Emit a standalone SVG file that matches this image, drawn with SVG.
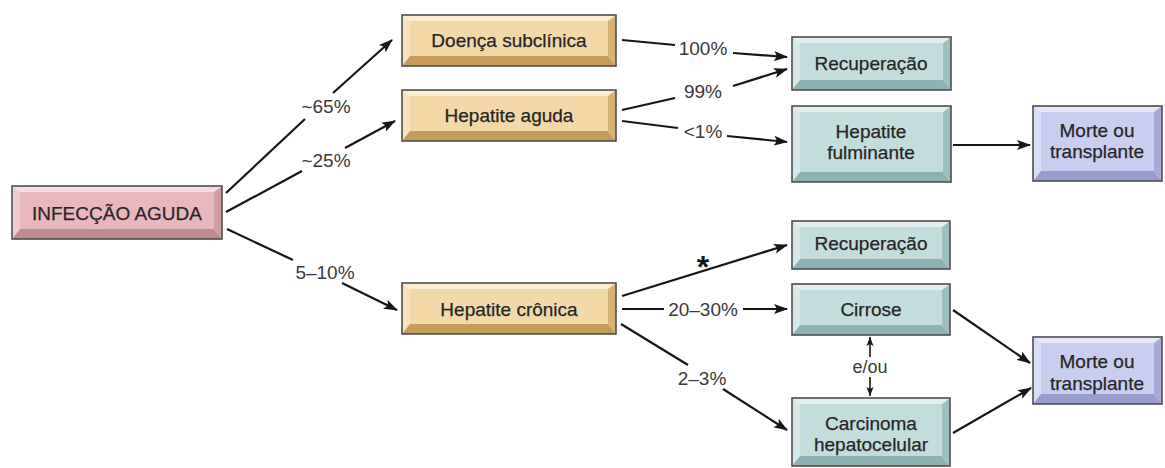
<svg xmlns="http://www.w3.org/2000/svg" width="1165" height="468" viewBox="0 0 1165 468">
  <defs>
    <style>
      text { font-family: "Liberation Sans", Arial, Helvetica, sans-serif; }
      .t { font-size: 19px; fill: #262626; text-anchor: middle; stroke: #262626; stroke-width: 0.25; }
      .lbl { font-size: 19px; fill: #3a3a3a; text-anchor: middle; }
      .ln { stroke: #161616; stroke-width: 2.2; fill: none; }
      .ln.a { marker-end: url(#ah); }
      .ln.s { marker-end: url(#ahs); stroke-width: 1.6; }
      .bd { fill: none; stroke: #4e4e4e; stroke-width: 1.6; }
      /* bevel palettes: face / top / left / right / bottom */
      .pink .f { fill: #e8b7be; } .pink .tp { fill: #f6dbdf; } .pink .lf { fill: #f0cad0; } .pink .rt { fill: #d29ba4; } .pink .bt { fill: #c48a93; }
      .tan .f { fill: #f3d9a8; } .tan .tp { fill: #fcefd0; } .tan .lf { fill: #f8e4bc; } .tan .rt { fill: #d8b273; } .tan .bt { fill: #c59c5b; }
      .teal .f { fill: #c3dcdc; } .teal .tp { fill: #e3efef; } .teal .lf { fill: #d6e8e8; } .teal .rt { fill: #9ebfbf; } .teal .bt { fill: #8db2b2; }
      .lav .f { fill: #c9cdf0; } .lav .tp { fill: #e5e7f9; } .lav .lf { fill: #d9dcf5; } .lav .rt { fill: #a6abd9; } .lav .bt { fill: #989dcd; }
    </style>
    <marker id="ah" markerWidth="15" markerHeight="11" refX="13" refY="5.5" orient="auto" markerUnits="userSpaceOnUse">
      <path d="M0,0.5 L14,5.5 L0,10.5 L3,5.5 z" fill="#161616"/>
    </marker>
    <marker id="ahs" markerWidth="10" markerHeight="8" refX="9" refY="4" orient="auto" markerUnits="userSpaceOnUse">
      <path d="M0,0.5 L9,4 L0,7.5 L2,4 z" fill="#161616"/>
    </marker>
  </defs>

  <rect width="1165" height="468" fill="#ffffff"/>

  <!-- connectors -->
  <g id="connectors">
    <line class="ln" x1="226" y1="193" x2="305" y2="119"/>
    <line class="ln a" x1="333" y1="93" x2="392" y2="40"/>
    <line class="ln" x1="226" y1="212" x2="302" y2="171"/>
    <line class="ln a" x1="345" y1="148" x2="395" y2="121"/>
    <line class="ln" x1="227" y1="229" x2="293" y2="260"/>
    <line class="ln a" x1="342" y1="283" x2="397" y2="310"/>

    <line class="ln" x1="622" y1="40" x2="675" y2="45"/>
    <line class="ln a" x1="733" y1="53" x2="787" y2="57"/>
    <line class="ln" x1="622" y1="110" x2="675" y2="98"/>
    <line class="ln a" x1="733" y1="86" x2="787" y2="69"/>
    <line class="ln" x1="622" y1="121" x2="678" y2="128"/>
    <line class="ln a" x1="727" y1="136" x2="787" y2="142"/>
    <line class="ln a" x1="953" y1="145" x2="1030" y2="145"/>

    <line class="ln a" x1="622" y1="296" x2="787" y2="245"/>
    <line class="ln" x1="622" y1="309" x2="664" y2="309"/>
    <line class="ln a" x1="743" y1="309" x2="787" y2="309"/>
    <line class="ln" x1="621" y1="324" x2="688" y2="365"/>
    <line class="ln a" x1="723" y1="389" x2="787" y2="430"/>

    <line class="ln s" x1="870" y1="357" x2="870" y2="337"/>
    <line class="ln s" x1="870" y1="377" x2="870" y2="396"/>

    <line class="ln a" x1="953" y1="310" x2="1030" y2="363"/>
    <line class="ln a" x1="953" y1="433" x2="1031" y2="388"/>

    <text class="lbl" x="326" y="113">~65%</text>
    <text class="lbl" x="326" y="167">~25%</text>
    <text class="lbl" x="325" y="279">5–10%</text>
    <text class="lbl" x="703" y="55">100%</text>
    <text class="lbl" x="703" y="98">99%</text>
    <text class="lbl" x="703" y="138">&lt;1%</text>
    <text class="lbl" x="703" y="278" style="font-size:32px;font-weight:bold;fill:#161616">*</text>
    <text class="lbl" x="703" y="316">20–30%</text>
    <text class="lbl" x="702" y="385">2–3%</text>
    <text class="lbl" x="870" y="373" style="font-size:18px">e/ou</text>
  </g>

  <!-- INFECÇÃO AGUDA: x12 y186 w210 h53 -->
  <g id="infeccao" class="pink">
    <polygon class="tp" points="12,186 222,186 214,192 20,192"/>
    <polygon class="lf" points="12,186 20,192 20,229 12,239"/>
    <polygon class="rt" points="222,186 222,239 214,229 214,192"/>
    <polygon class="bt" points="12,239 20,229 214,229 222,239"/>
    <rect class="f" x="20" y="192" width="194" height="37"/>
    <rect class="bd" x="12" y="186" width="210" height="53"/>
    <text class="t" x="117" y="220">INFECÇÃO AGUDA</text>
  </g>

  <!-- Doença subclínica: x402 y15 w214 h51 -->
  <g id="doenca" class="tan">
    <polygon class="tp" points="402,15 616,15 608,21 410,21"/>
    <polygon class="lf" points="402,15 410,21 410,56 402,66"/>
    <polygon class="rt" points="616,15 616,66 608,56 608,21"/>
    <polygon class="bt" points="402,66 410,56 608,56 616,66"/>
    <rect class="f" x="410" y="21" width="198" height="35"/>
    <rect class="bd" x="402" y="15" width="214" height="51"/>
    <text class="t" x="509" y="47">Doença subclínica</text>
  </g>

  <!-- Hepatite aguda: x402 y90 w214 h51 -->
  <g id="hep-aguda" class="tan">
    <polygon class="tp" points="402,90 616,90 608,96 410,96"/>
    <polygon class="lf" points="402,90 410,96 410,131 402,141"/>
    <polygon class="rt" points="616,90 616,141 608,131 608,96"/>
    <polygon class="bt" points="402,141 410,131 608,131 616,141"/>
    <rect class="f" x="410" y="96" width="198" height="35"/>
    <rect class="bd" x="402" y="90" width="214" height="51"/>
    <text class="t" x="509" y="122">Hepatite aguda</text>
  </g>

  <!-- Hepatite crônica: x402 y283 w214 h51 -->
  <g id="hep-cronica" class="tan">
    <polygon class="tp" points="402,283 616,283 608,289 410,289"/>
    <polygon class="lf" points="402,283 410,289 410,324 402,334"/>
    <polygon class="rt" points="616,283 616,334 608,324 608,289"/>
    <polygon class="bt" points="402,334 410,324 608,324 616,334"/>
    <rect class="f" x="410" y="289" width="198" height="35"/>
    <rect class="bd" x="402" y="283" width="214" height="51"/>
    <text class="t" x="509" y="316">Hepatite crônica</text>
  </g>

  <!-- Recuperação (top): x792 y37 w159 h53 -->
  <g id="recup-1" class="teal">
    <polygon class="tp" points="792,37 951,37 943,43 800,43"/>
    <polygon class="lf" points="792,37 800,43 800,80 792,90"/>
    <polygon class="rt" points="951,37 951,90 943,80 943,43"/>
    <polygon class="bt" points="792,90 800,80 943,80 951,90"/>
    <rect class="f" x="800" y="43" width="143" height="37"/>
    <rect class="bd" x="792" y="37" width="159" height="53"/>
    <text class="t" x="871" y="70">Recuperação</text>
  </g>

  <!-- Hepatite fulminante: x792 y106 w159 h76 -->
  <g id="fulminante" class="teal">
    <polygon class="tp" points="792,106 951,106 943,112 800,112"/>
    <polygon class="lf" points="792,106 800,112 800,172 792,182"/>
    <polygon class="rt" points="951,106 951,182 943,172 943,112"/>
    <polygon class="bt" points="792,182 800,172 943,172 951,182"/>
    <rect class="f" x="800" y="112" width="143" height="60"/>
    <rect class="bd" x="792" y="106" width="159" height="76"/>
    <text class="t" x="871" y="138">Hepatite</text>
    <text class="t" x="871" y="159">fulminante</text>
  </g>

  <!-- Morte ou transplante (top): x1033 y106 w129 h75 -->
  <g id="morte-1" class="lav">
    <polygon class="tp" points="1033,106 1162,106 1154,112 1041,112"/>
    <polygon class="lf" points="1033,106 1041,112 1041,171 1033,181"/>
    <polygon class="rt" points="1162,106 1162,181 1154,171 1154,112"/>
    <polygon class="bt" points="1033,181 1041,171 1154,171 1162,181"/>
    <rect class="f" x="1041" y="112" width="113" height="59"/>
    <rect class="bd" x="1033" y="106" width="129" height="75"/>
    <text class="t" x="1097" y="137">Morte ou</text>
    <text class="t" x="1097" y="158">transplante</text>
  </g>

  <!-- Recuperação (bottom): x792 y221 w158 h48 -->
  <g id="recup-2" class="teal">
    <polygon class="tp" points="792,221 950,221 942,227 800,227"/>
    <polygon class="lf" points="792,221 800,227 800,259 792,269"/>
    <polygon class="rt" points="950,221 950,269 942,259 942,227"/>
    <polygon class="bt" points="792,269 800,259 942,259 950,269"/>
    <rect class="f" x="800" y="227" width="142" height="32"/>
    <rect class="bd" x="792" y="221" width="158" height="48"/>
    <text class="t" x="871" y="250">Recuperação</text>
  </g>

  <!-- Cirrose: x792 y284 w158 h51 -->
  <g id="cirrose" class="teal">
    <polygon class="tp" points="792,284 950,284 942,290 800,290"/>
    <polygon class="lf" points="792,284 800,290 800,325 792,335"/>
    <polygon class="rt" points="950,284 950,335 942,325 942,290"/>
    <polygon class="bt" points="792,335 800,325 942,325 950,335"/>
    <rect class="f" x="800" y="290" width="142" height="35"/>
    <rect class="bd" x="792" y="284" width="158" height="51"/>
    <text class="t" x="871" y="316">Cirrose</text>
  </g>

  <!-- Carcinoma hepatocelular: x792 y398 w158 h68 -->
  <g id="carcinoma" class="teal">
    <polygon class="tp" points="792,398 950,398 942,404 800,404"/>
    <polygon class="lf" points="792,398 800,404 800,456 792,466"/>
    <polygon class="rt" points="950,398 950,466 942,456 942,404"/>
    <polygon class="bt" points="792,466 800,456 942,456 950,466"/>
    <rect class="f" x="800" y="404" width="142" height="52"/>
    <rect class="bd" x="792" y="398" width="158" height="68"/>
    <text class="t" x="871" y="430">Carcinoma</text>
    <text class="t" x="871" y="451">hepatocelular</text>
  </g>

  <!-- Morte ou transplante (bottom): x1033 y337 w129 h67 -->
  <g id="morte-2" class="lav">
    <polygon class="tp" points="1033,337 1162,337 1154,343 1041,343"/>
    <polygon class="lf" points="1033,337 1041,343 1041,394 1033,404"/>
    <polygon class="rt" points="1162,337 1162,404 1154,394 1154,343"/>
    <polygon class="bt" points="1033,404 1041,394 1154,394 1162,404"/>
    <rect class="f" x="1041" y="343" width="113" height="51"/>
    <rect class="bd" x="1033" y="337" width="129" height="67"/>
    <text class="t" x="1097" y="368">Morte ou</text>
    <text class="t" x="1097" y="390">transplante</text>
  </g>
</svg>
